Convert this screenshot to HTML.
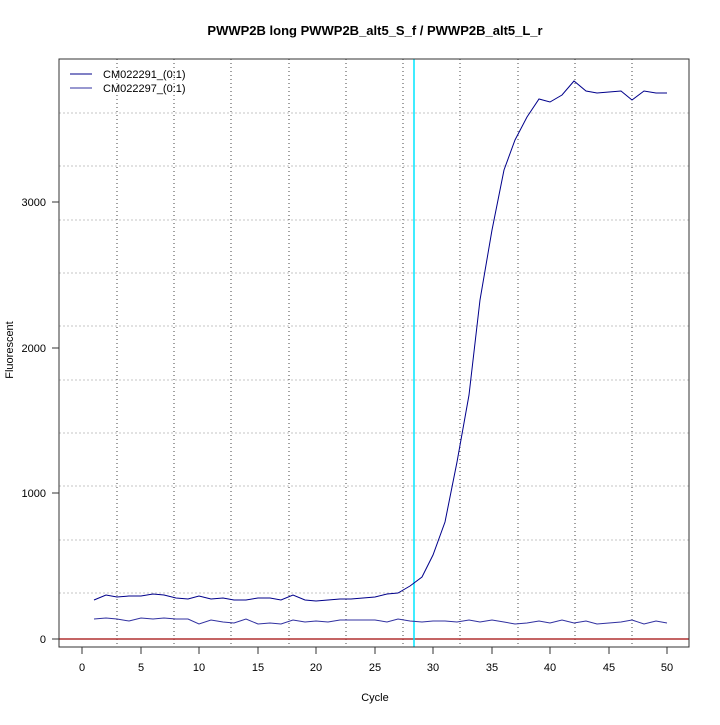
<!DOCTYPE html>
<html><head><style>body{margin:0;background:#fff}</style></head><body>
<svg width="720" height="720" xmlns="http://www.w3.org/2000/svg" font-family="Liberation Sans, sans-serif">
<rect width="720" height="720" fill="#fff"/>
<g stroke="#c4c4c4" stroke-dasharray="2,2" stroke-width="1">
<line x1="59" x2="689" y1="593" y2="593"/><line x1="59" x2="689" y1="540" y2="540"/><line x1="59" x2="689" y1="486" y2="486"/><line x1="59" x2="689" y1="433" y2="433"/><line x1="59" x2="689" y1="380" y2="380"/><line x1="59" x2="689" y1="326" y2="326"/><line x1="59" x2="689" y1="273" y2="273"/><line x1="59" x2="689" y1="220" y2="220"/><line x1="59" x2="689" y1="166" y2="166"/><line x1="59" x2="689" y1="113" y2="113"/>
</g>
<g stroke="#444" stroke-dasharray="1,3" stroke-width="1">
<line y1="59" y2="647" x1="117" x2="117"/><line y1="59" y2="647" x1="174" x2="174"/><line y1="59" y2="647" x1="231" x2="231"/><line y1="59" y2="647" x1="289" x2="289"/><line y1="59" y2="647" x1="346" x2="346"/><line y1="59" y2="647" x1="403" x2="403"/><line y1="59" y2="647" x1="460" x2="460"/><line y1="59" y2="647" x1="518" x2="518"/><line y1="59" y2="647" x1="575" x2="575"/><line y1="59" y2="647" x1="632" x2="632"/>
</g>
<line x1="59" x2="689" y1="639" y2="639" stroke="#b03030" stroke-width="1.5"/>
<line x1="414" x2="414" y1="59" y2="647" stroke="#00e5ff" stroke-width="1.5"/>
<g fill="none" stroke="#00008b" stroke-width="1">
<polyline points="94,600 106,595 117,597 129,596 141,596 153,594 164,595 176,598 188,599 199,596 211,599 223,598 234,600 246,600 258,598 270,598 281,600 293,595 305,600 316,601 328,600 340,599 351,599 363,598 375,597 387,594 398,593 410,586 422,577 433,555 445,522 457,462 469,395 480,300 492,230 504,170 515,140 527,117 539,99 550,102 562,95 574,81 586,91 597,93 609,92 621,91 632,100 644,91 656,93 667,93"/>
<polyline stroke="#3030a0" points="94,619 106,618 117,619 129,621 141,618 153,619 164,618 176,619 188,619 199,624 211,620 223,622 234,623 246,619 258,624 270,623 281,624 293,620 305,622 316,621 328,622 340,620 351,620 363,620 375,620 387,622 398,619 410,621 422,622 433,621 445,621 457,622 469,620 480,622 492,620 504,622 515,624 527,623 539,621 550,623 562,620 574,623 586,621 597,624 609,623 621,622 632,620 644,624 656,621 667,623"/>
</g>
<rect x="59" y="59" width="630" height="588" fill="none" stroke="#333" stroke-width="1"/>
<g stroke="#333"><line x1="82" x2="667" y1="647" y2="647"/>
<line x1="82" x2="82" y1="647" y2="654"/><line x1="141" x2="141" y1="647" y2="654"/><line x1="199" x2="199" y1="647" y2="654"/><line x1="258" x2="258" y1="647" y2="654"/><line x1="316" x2="316" y1="647" y2="654"/><line x1="375" x2="375" y1="647" y2="654"/><line x1="433" x2="433" y1="647" y2="654"/><line x1="492" x2="492" y1="647" y2="654"/><line x1="550" x2="550" y1="647" y2="654"/><line x1="609" x2="609" y1="647" y2="654"/><line x1="667" x2="667" y1="647" y2="654"/>
<line x1="52" x2="59" y1="639" y2="639"/><line x1="52" x2="59" y1="493" y2="493"/><line x1="52" x2="59" y1="348" y2="348"/><line x1="52" x2="59" y1="202" y2="202"/>
</g>
<g font-size="11" fill="#000" text-anchor="middle">
<text x="82" y="671">0</text><text x="141" y="671">5</text><text x="199" y="671">10</text><text x="258" y="671">15</text><text x="316" y="671">20</text><text x="375" y="671">25</text><text x="433" y="671">30</text><text x="492" y="671">35</text><text x="550" y="671">40</text><text x="609" y="671">45</text><text x="667" y="671">50</text>
<text x="375" y="701">Cycle</text>
<text transform="translate(13,350) rotate(-90)">Fluorescent</text>
</g>
<g font-size="11" text-anchor="end"><text x="46" y="643">0</text><text x="46" y="497">1000</text><text x="46" y="352">2000</text><text x="46" y="206">3000</text></g>
<text x="375" y="35" font-size="13" font-weight="bold" text-anchor="middle">PWWP2B long PWWP2B_alt5_S_f / PWWP2B_alt5_L_r</text>
<line x1="70" x2="92" y1="74" y2="74" stroke="#00008b"/><line x1="70" x2="92" y1="88" y2="88" stroke="#3030a0"/>
<g font-size="11"><text x="103" y="78">CM022291_(0:1)</text><text x="103" y="92">CM022297_(0:1)</text></g>
</svg>
</body></html>
